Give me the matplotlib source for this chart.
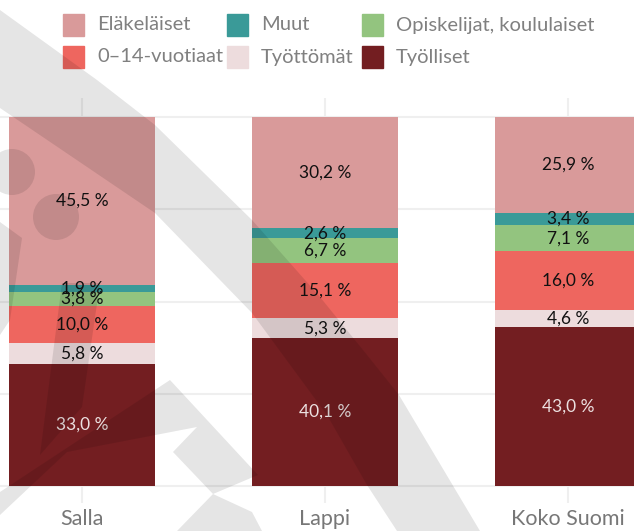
import matplotlib.pyplot as plt
import numpy as np
from matplotlib.patches import Ellipse, Polygon, Rectangle

plt.rcParams["font.family"] = ["Lato", "DejaVu Sans"]

categories = ["Salla", "Lappi", "Koko Suomi"]

# stack order from the bottom up
series_names = ["Työlliset", "Työttömät", "0–14-vuotiaat",
                "Opiskelijat, koululaiset", "Muut", "Eläkeläiset"]
tyolliset = [33.0, 40.1, 43.0]
tyottomat = [5.8, 5.3, 4.6]
lapset = [10.0, 15.1, 16.0]
opiskelijat = [3.8, 6.7, 7.1]
muut = [1.9, 2.6, 3.4]
elakelaiset = [45.5, 30.2, 25.9]
series_values = [tyolliset, tyottomat, lapset, opiskelijat, muut, elakelaiset]
series_colors = ["#731e21", "#eddcdd", "#ee665f", "#93c47f", "#3a9a98", "#d99a9a"]
label_colors = ["#ece0e0", "#111111", "#111111", "#111111", "#111111", "#111111"]

legend_order = ["Eläkeläiset", "Muut", "Opiskelijat, koululaiset",
                "0–14-vuotiaat", "Työttömät", "Työlliset"]

W, H = 634, 531


def fx(px):
    return px / W


def fy(py):
    return 1 - py / H


fig = plt.figure(figsize=(W / 100, H / 100), dpi=100)
ax = fig.add_axes([0, fy(503), 1, (503 - 98) / H])

x = np.arange(len(categories))
for yv in [0, 25, 50, 75, 100]:
    ax.axhline(yv, color="#efefef", lw=1.5, zorder=0)
for xv in x:
    ax.axvline(xv, color="#efefef", lw=1.5, zorder=0)

bottom = np.zeros(len(categories))
for vals, col, tcol in zip(series_values, series_colors, label_colors):
    vals = np.array(vals)
    ax.bar(x, vals, width=0.6, bottom=bottom, color=col, zorder=2)
    for xi, b, v in zip(x, bottom, vals):
        ax.text(xi, b + v / 2, f"{v:.1f} %".replace(".", ","), ha="center", va="center",
                fontsize=12.5, color=tcol, zorder=3)
    bottom += vals

ax.set_xlim(-82 / 243, (634 - 82) / 243)
ax.set_ylim(-(503 - 486) / 3.69, 100 + (117 - 98) / 3.69)
ax.set_xticks(x, categories)
ax.tick_params(axis="x", length=0, pad=4, labelsize=15.5, labelcolor="#777777")
ax.set_yticks([])
for s in ax.spines.values():
    s.set_visible(False)

# legend, drawn by hand in pixel positions
name_to_color = dict(zip(series_names, series_colors))
col_x = [63, 227, 362]
row_y = [25, 57]
for i, name in enumerate(legend_order):
    px = col_x[i % 3]
    py = row_y[i // 3]
    fig.add_artist(Rectangle((fx(px), fy(py + 11)), 21 / W, 22 / H,
                             transform=fig.transFigure, color=name_to_color[name]))
    fig.text(fx(px + 34), fy(py), name, ha="left", va="center", fontsize=14.5,
             color="#808080")

# faint grey watermark over everything
shade = dict(transform=fig.transFigure, facecolor="black", alpha=0.10, lw=0, zorder=10)
shapes = [
    [(0, 10), (97, 80), (155, 125), (252, 220), (320, 297), (363, 350), (399, 395),
     (480, 531), (397, 531), (367, 485), (327, 415), (252, 313), (155, 213), (0, 108)],
    [(0, 222), (22, 238), (10, 320), (0, 335)],
    [(62, 283), (100, 283), (82, 407), (40, 455)],
    [(0, 492), (170, 380), (258, 475), (213, 494), (173, 452), (197, 427), (67, 452), (0, 515)],
    [(177, 531), (213, 494), (252, 512), (262, 531)],
]
for pts in shapes:
    fig.add_artist(Polygon([(fx(a), fy(b)) for a, b in pts], closed=True, **shade))
for cx, cy, r in [(12, 172, 23), (56, 217, 23)]:
    fig.add_artist(Ellipse((fx(cx), fy(cy)), 2 * r / W, 2 * r / H, **shade))

fig.savefig("out.png", dpi=100)
